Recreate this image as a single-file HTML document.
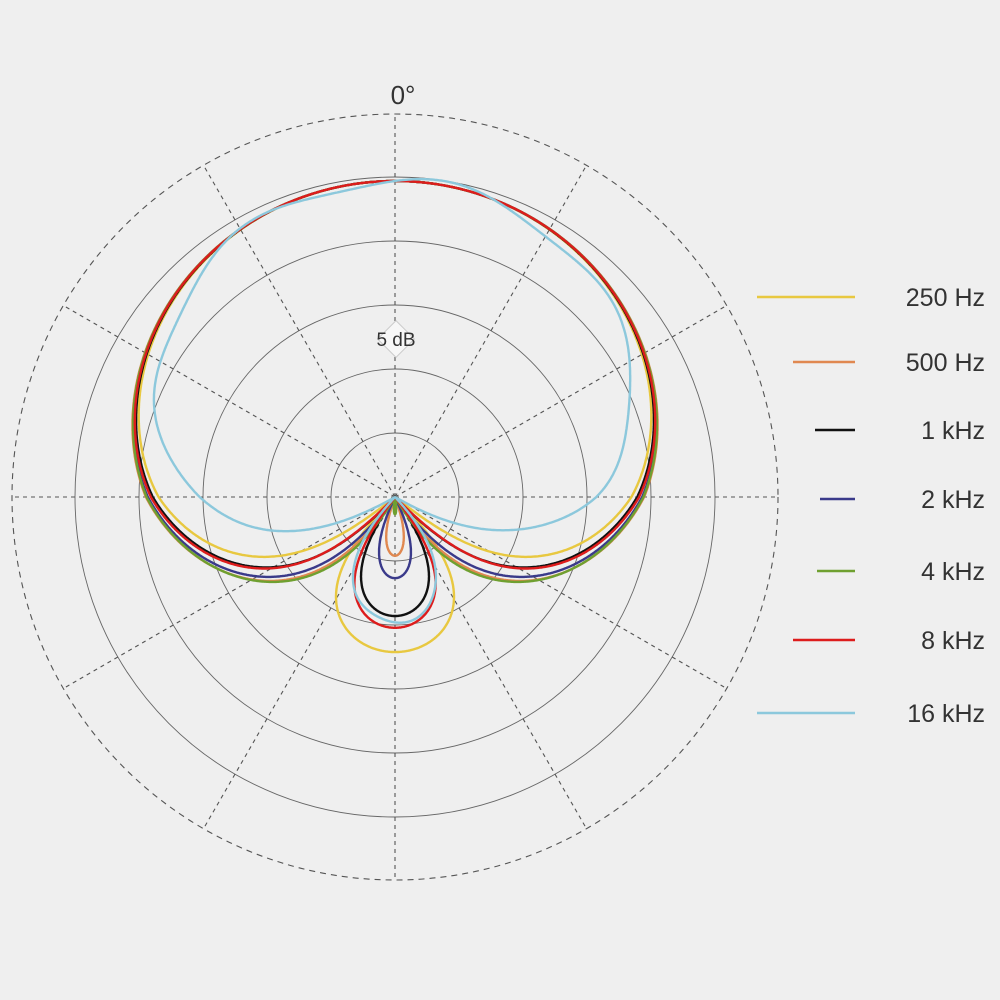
<!DOCTYPE html>
<html><head><meta charset="utf-8"><style>
html,body{margin:0;padding:0;background:#efefef;}
svg{display:block}
text{font-family:"Liberation Sans",sans-serif;fill:#333}
</style></head><body>
<svg id="s" width="1000" height="1000" viewBox="0 0 1000 1000">
<rect width="1000" height="1000" fill="#efefef"/>
<g id="grid" fill="none" stroke="#555" stroke-width="1"></g>
<g id="curves" fill="none" stroke-width="2.4"></g>
<rect x="383" y="326" width="26" height="26" transform="rotate(45 396 339)" fill="#f7f7f7" stroke="#ccc" stroke-width="1"/>
<text x="396" y="346" font-size="19" text-anchor="middle">5 dB</text>
<text x="403" y="104" font-size="26" text-anchor="middle">0°</text>
<g id="leg"></g>
</svg>
<script>
var cx=395,cy=497,NS="http://www.w3.org/2000/svg";
var g=document.getElementById('grid');
function el(p,t,a){var e=document.createElementNS(NS,t);for(var k in a)e.setAttribute(k,a[k]);p.appendChild(e);return e;}
[64,128,192,256,320].forEach(function(r){el(g,'circle',{cx:cx,cy:cy,r:r,stroke:'#666','stroke-width':0.9});});
el(g,'circle',{cx:cx,cy:cy,r:383,'stroke-dasharray':'6,5','stroke-width':1.1});
for(var i=0;i<12;i++){var a=i*Math.PI/6;el(g,'line',{x1:cx,y1:cy,x2:cx+383*Math.sin(a),y2:cy-383*Math.cos(a),'stroke-dasharray':'4,4','stroke-width':1.1});}
var series=[
 ['#e8c840',0.40,10.0,0],
 ['#e08850',0.47,10.2,0],
 ['#111111',0.435,10.2,0],
 ['#3a3a8a',0.46,10.2,0],
 ['#6fa030',0.48,10.6,0],
 ['#dd1c1c',0.43,9.8,0],
 ['#8cc8dc',0.38,14,1]
];
var cg=document.getElementById('curves');
series.forEach(function(s){
 var a=s[1],sc=s[2],d='';
 for(var k=0;k<=1440;k++){var t=k/1440*2*Math.PI;var v=Math.abs(a+(1-a)*Math.cos(t));
  var db=20*Math.log(Math.max(v,1e-6))/Math.LN10;var r=316+sc*db;if(r<0)r=0;
  r*=1-0.12*Math.max(0,-Math.cos(t));
  if(s[3])r*=1+0.015*Math.sin(9*t);
  var x=cx+r*Math.sin(t),y=cy-r*Math.cos(t);d+=(k?'L':'M')+x.toFixed(1)+','+y.toFixed(1);}
 el(cg,'path',{d:d,stroke:s[0]});
});
var lg=document.getElementById('leg');
var labs=['250 Hz','500 Hz','1 kHz','2 kHz','4 kHz','8 kHz','16 kHz'];
var ys=[297,362,430,499,571,640,713];
var lx=[[757,855],[793,855],[815,855],[820,855],[817,855],[793,855],[757,855]];
labs.forEach(function(l,i){el(lg,'line',{x1:lx[i][0],x2:lx[i][1],y1:ys[i],y2:ys[i],stroke:series[i][0],'stroke-width':2.6});
 var t=el(lg,'text',{x:985,y:ys[i]+9,'font-size':25,'text-anchor':'end'});t.textContent=l;});
</script>
</body></html>
